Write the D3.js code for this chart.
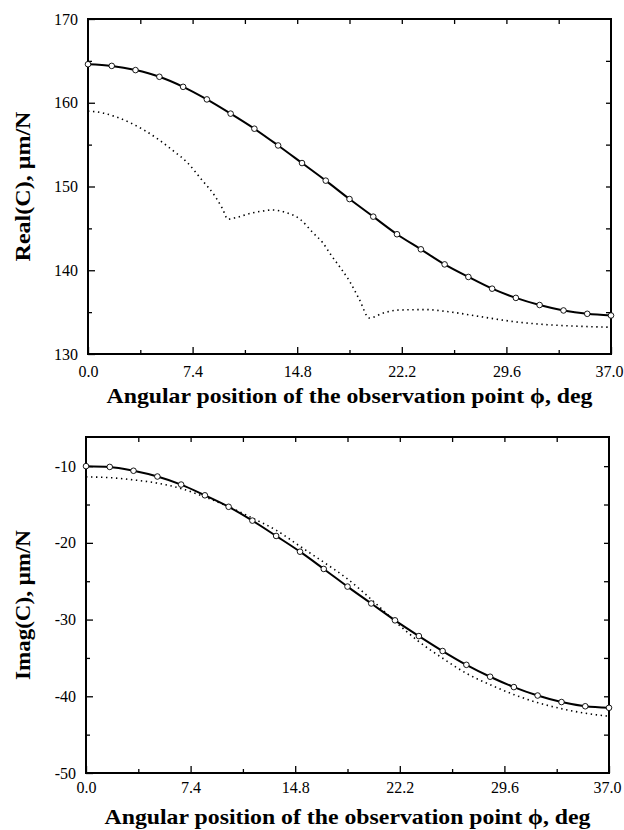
<html>
<head>
  <meta charset="utf-8">
  <script src="https://d3js.org/d3.v7.min.js"></script>
  <style>
    body { margin: 0; background: white; }
    .axis .domain { stroke: none; }
    .axis line { stroke: black; stroke-width: 1.3; }
  </style>
</head>
<body>
  <svg id="chart" width="624" height="830"></svg>
  <script>
    // x ticks (deg)
    const phiLabels = [0, 7.4, 14.8, 22.2, 29.6, 37.0];
    const phiMinor = [3.7, 11.1, 18.5, 25.9, 33.3];
    const phiAll = [3.7, 7.4, 11.1, 14.8, 18.5, 22.2, 25.9, 29.6, 33.3];

    // marker positions along phi
    const markerPhi = [0, 1.68, 3.36, 5.05, 6.73, 8.41, 10.09, 11.77, 13.45, 15.14, 16.82, 18.5,
      20.18, 21.86, 23.55, 25.23, 26.91, 28.59, 30.27, 31.95, 33.64, 35.32, 37.0];

    // top panel: Real(C)
    const realSolid = [164.6, 164.4, 163.9, 163.1, 161.9, 160.4, 158.7, 156.9, 154.9, 152.8, 150.7, 148.5,
      146.4, 144.3, 142.5, 140.7, 139.2, 137.8, 136.7, 135.85, 135.2, 134.8, 134.6];
    const realDotPhi = [0, 1, 2, 3, 4, 5, 6, 7, 8, 9, 9.5, 9.9, 10.5, 11.5, 12.5, 13.0, 14.0, 15.0, 15.9,
      16.6, 17.2, 17.9, 18.5, 19.2, 19.9, 20.9, 22.0, 23.9, 25.5, 27.8, 30.2, 32.5, 34.9, 37.0];
    const realDot = [159.0, 158.8, 158.3, 157.6, 156.7, 155.6, 154.3, 152.9, 150.9, 148.8, 147.4, 146.1, 146.3,
      146.8, 147.1, 147.2, 146.9, 146.1, 144.5, 143.3, 141.8, 140.2, 138.7, 136.5, 134.3, 134.9, 135.25,
      135.3, 135.05, 134.45, 133.85, 133.5, 133.3, 133.2];
    const realTicks = [130, 140, 150, 160, 170];
    const realMinor = [135, 145, 155, 165];
    const realRight = [135, 140, 145, 150, 155, 160, 165];

    // bottom panel: Imag(C)
    const imagSolid = [-10.0, -10.1, -10.6, -11.35, -12.4, -13.8, -15.3, -17.1, -19.1, -21.15, -23.4, -25.7,
      -27.9, -30.1, -32.15, -34.1, -35.9, -37.45, -38.8, -39.9, -40.75, -41.3, -41.5];
    const imagDotPhi = [0, 1.7, 3.4, 5.0, 6.7, 8.4, 10.1, 11.8, 13.5, 15.1, 16.8, 18.5, 20.2, 21.9, 23.5,
      25.2, 26.9, 28.6, 30.3, 31.9, 33.6, 35.3, 37.0];
    const imagDot = [-11.4, -11.5, -11.8, -12.2, -12.9, -14.0, -15.3, -16.8, -18.4, -20.4, -22.5, -24.7,
      -27.4, -30.3, -32.8, -35.0, -37.0, -38.5, -39.8, -40.8, -41.6, -42.2, -42.6];
    const imagTicks = [-50, -40, -30, -20, -10];
    const imagMinor = [-45, -35, -25, -15];
    const imagRight = [-45, -40, -35, -30, -25, -20, -15, -10];

    const svg = d3.select("#chart");
    const serif = '"Liberation Serif"';

    function panel(box, yDomain, yTicks, yMinor, yRight, solid, dotPhi, dot, yTitle) {
      const x = d3.scaleLinear().domain([0, 37]).range([box.left, box.right]);
      const y = d3.scaleLinear().domain(yDomain).range([box.bottom, box.top]);
      const g = svg.append("g");

      // bottom axis, labelled + minor
      g.append("g").attr("class", "axis xlab")
        .attr("transform", `translate(0,${box.bottom})`)
        .call(d3.axisBottom(x).tickValues(phiLabels).tickSize(-7).tickPadding(box.xPad)
          .tickFormat(d3.format(".1f")));
      g.append("g").attr("class", "axis")
        .attr("transform", `translate(0,${box.bottom})`)
        .call(d3.axisBottom(x).tickValues(phiMinor).tickSize(-4).tickFormat(""));
      // top axis
      g.append("g").attr("class", "axis")
        .attr("transform", `translate(0,${box.top})`)
        .call(d3.axisTop(x).tickValues(phiAll).tickSize(-5).tickFormat(""));
      // left axis
      g.append("g").attr("class", "axis")
        .attr("transform", `translate(${box.left},0)`)
        .call(d3.axisLeft(y).tickValues(yTicks).tickSize(-7).tickPadding(10).tickFormat(d => String(d)));
      g.append("g").attr("class", "axis")
        .attr("transform", `translate(${box.left},0)`)
        .call(d3.axisLeft(y).tickValues(yMinor).tickSize(-4).tickFormat(""));
      // right axis
      g.append("g").attr("class", "axis")
        .attr("transform", `translate(${box.right},0)`)
        .call(d3.axisRight(y).tickValues(yRight).tickSize(-5).tickFormat(""));

      g.selectAll(".axis").attr("font-family", serif);
      g.selectAll(".axis text")
        .style("font-family", serif)
        .style("font-size", "16px")
        .style("fill", "black");
      // keep the last x label inside the page
      g.selectAll(".xlab text").filter(d => d === 37).attr("dx", -2);

      // frame
      g.append("rect")
        .attr("x", box.left).attr("y", box.top)
        .attr("width", box.right - box.left).attr("height", box.bottom - box.top)
        .attr("fill", "none").attr("stroke", "black").attr("stroke-width", 2);

      // dotted curve
      const dotLine = d3.line().x((d, i) => x(dotPhi[i])).y(d => y(d)).curve(d3.curveMonotoneX);
      g.append("path").attr("d", dotLine(dot))
        .attr("fill", "none").attr("stroke", "black").attr("stroke-width", 1.6)
        .attr("stroke-dasharray", "1.4,3.6");

      // solid curve with markers
      const solidLine = d3.line().x((d, i) => x(markerPhi[i])).y(d => y(d)).curve(d3.curveMonotoneX);
      g.append("path").attr("d", solidLine(solid))
        .attr("fill", "none").attr("stroke", "black").attr("stroke-width", 2);
      g.selectAll("circle").data(solid).join("circle")
        .attr("cx", (d, i) => x(markerPhi[i]))
        .attr("cy", d => y(d))
        .attr("r", 2.8)
        .attr("fill", "white").attr("stroke", "black").attr("stroke-width", 0.9);

      // titles
      g.append("text")
        .style("font-family", serif).style("font-weight", "bold").style("font-size", "21px")
        .attr("x", (box.left + box.right) / 2).attr("y", box.bottom + box.titleGap)
        .attr("text-anchor", "middle")
        .attr("textLength", 486).attr("lengthAdjust", "spacingAndGlyphs")
        .text("Angular position of the observation point \u03D5, deg");
      g.append("text")
        .style("font-family", serif).style("font-weight", "bold").style("font-size", "21px")
        .attr("transform", `translate(30,${(box.top + box.bottom) / 2}) rotate(-90)`)
        .attr("text-anchor", "middle")
        .attr("textLength", 150).attr("lengthAdjust", "spacingAndGlyphs")
        .text(yTitle);
    }

    panel({ left: 88, right: 611, top: 19, bottom: 354, xPad: 12, titleGap: 49 }, [130, 170], realTicks, realMinor,
      realRight, realSolid, realDotPhi, realDot, "Real(C), \u03BCm/N");
    panel({ left: 86, right: 609, top: 437, bottom: 773, xPad: 9, titleGap: 51 }, [-50, -6.2], imagTicks, imagMinor,
      imagRight, imagSolid, imagDotPhi, imagDot, "Imag(C), \u03BCm/N");
  </script>
</body>
</html>
